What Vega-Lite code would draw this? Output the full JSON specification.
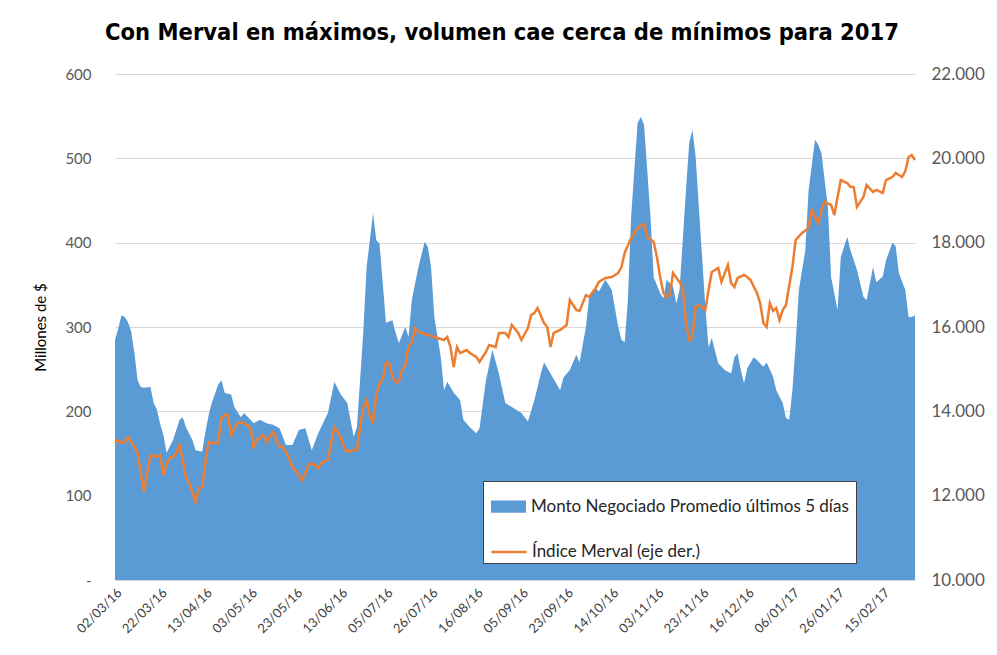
{
  "$schema": "https://vega.github.io/schema/vega-lite/v6.json",
  "autosize": {"type": "none"},
  "padding": {"left": 115, "top": 74, "right": 82, "bottom": 75},
  "width": 800,
  "height": 506,
  "background": "white",
  "config": {
    "view": {"stroke": null},
    "axis": {"labelFont": "Lato", "titleFont": "Lato", "labelColor": "#595959"}
  },
  "title": {
    "text": "Con Merval en máximos, volumen cae cerca de mínimos para 2017",
    "font": "DejaVu Sans Condensed",
    "fontSize": 23.5,
    "fontWeight": "bold",
    "color": "black",
    "anchor": "middle",
    "dx": -13,
    "offset": 21
  },
  "datasets": {
    "monto": [
      {"i":0,"v":285},{"i":1,"v":298},{"i":2,"v":314},{"i":3,"v":312},{"i":4,"v":306},{"i":5,"v":295},{"i":6,"v":270},{"i":7,"v":237},{"i":8,"v":229},{"i":9,"v":228},{"i":11,"v":229},{"i":12,"v":210},{"i":13,"v":202},{"i":14,"v":185},{"i":15,"v":172},{"i":16,"v":151},{"i":18,"v":166},{"i":20,"v":190},{"i":21,"v":193},{"i":22,"v":181},{"i":24,"v":166},{"i":25,"v":154},{"i":27,"v":152},{"i":28,"v":175},{"i":29,"v":195},{"i":30,"v":210},{"i":32,"v":232},{"i":33,"v":237},{"i":34,"v":222},{"i":36,"v":220},{"i":37,"v":205},{"i":39,"v":193},{"i":40,"v":198},{"i":43,"v":186},{"i":45,"v":190},{"i":47,"v":186},{"i":49,"v":184},{"i":51,"v":180},{"i":53,"v":160},{"i":55,"v":160},{"i":57,"v":178},{"i":59,"v":180},{"i":61,"v":154},{"i":63,"v":174},{"i":66,"v":198},{"i":68,"v":235},{"i":70,"v":220},{"i":72,"v":210},{"i":74,"v":170},{"i":75,"v":181},{"i":77,"v":296},{"i":78,"v":371},{"i":80,"v":435},{"i":81,"v":403},{"i":82,"v":399},{"i":83,"v":352},{"i":84,"v":305},{"i":86,"v":308},{"i":87,"v":293},{"i":88,"v":281},{"i":90,"v":300},{"i":91,"v":288},{"i":92,"v":332},{"i":94,"v":370},{"i":96,"v":401},{"i":97,"v":395},{"i":98,"v":370},{"i":99,"v":312},{"i":101,"v":264},{"i":102,"v":225},{"i":103,"v":235},{"i":105,"v":222},{"i":107,"v":213},{"i":108,"v":190},{"i":110,"v":181},{"i":112,"v":174},{"i":113,"v":180},{"i":115,"v":237},{"i":117,"v":273},{"i":119,"v":245},{"i":121,"v":210},{"i":123,"v":205},{"i":126,"v":198},{"i":128,"v":188},{"i":130,"v":213},{"i":132,"v":245},{"i":133,"v":258},{"i":135,"v":245},{"i":138,"v":225},{"i":139,"v":240},{"i":141,"v":249},{"i":143,"v":267},{"i":144,"v":258},{"i":146,"v":300},{"i":147,"v":336},{"i":149,"v":346},{"i":150,"v":342},{"i":152,"v":356},{"i":153,"v":350},{"i":154,"v":344},{"i":156,"v":300},{"i":157,"v":285},{"i":158,"v":282},{"i":159,"v":332},{"i":160,"v":431},{"i":162,"v":542},{"i":163,"v":549},{"i":164,"v":540},{"i":166,"v":431},{"i":167,"v":359},{"i":169,"v":340},{"i":170,"v":334},{"i":171,"v":356},{"i":173,"v":348},{"i":174,"v":328},{"i":175,"v":344},{"i":177,"v":462},{"i":178,"v":518},{"i":179,"v":534},{"i":180,"v":502},{"i":181,"v":442},{"i":183,"v":324},{"i":184,"v":276},{"i":185,"v":287},{"i":187,"v":257},{"i":189,"v":249},{"i":191,"v":245},{"i":192,"v":264},{"i":193,"v":269},{"i":194,"v":249},{"i":195,"v":233},{"i":196,"v":251},{"i":198,"v":264},{"i":199,"v":261},{"i":201,"v":253},{"i":202,"v":258},{"i":204,"v":241},{"i":205,"v":225},{"i":207,"v":210},{"i":208,"v":192},{"i":209,"v":190},{"i":210,"v":225},{"i":211,"v":280},{"i":212,"v":344},{"i":214,"v":391},{"i":215,"v":462},{"i":217,"v":522},{"i":218,"v":516},{"i":219,"v":506},{"i":221,"v":442},{"i":222,"v":359},{"i":224,"v":320},{"i":225,"v":383},{"i":227,"v":407},{"i":228,"v":391},{"i":230,"v":368},{"i":232,"v":336},{"i":233,"v":332},{"i":235,"v":371},{"i":236,"v":353},{"i":238,"v":360},{"i":239,"v":379},{"i":241,"v":400},{"i":242,"v":396},{"i":243,"v":364},{"i":245,"v":344},{"i":246,"v":312},{"i":247,"v":312},{"i":248,"v":314}
    ],
    "merval": [
      {"i":0,"v":13249},{"i":1,"v":13320},{"i":2,"v":13249},{"i":3,"v":13273},{"i":4,"v":13391},{"i":5,"v":13273},{"i":6,"v":13154},{"i":7,"v":13012},{"i":8,"v":12537},{"i":9,"v":12087},{"i":10,"v":12537},{"i":11,"v":12964},{"i":13,"v":12920},{"i":14,"v":12964},{"i":15,"v":12490},{"i":16,"v":12750},{"i":17,"v":12893},{"i":18,"v":12920},{"i":19,"v":13012},{"i":20,"v":13202},{"i":21,"v":12846},{"i":22,"v":12443},{"i":23,"v":12300},{"i":25,"v":11850},{"i":26,"v":12182},{"i":27,"v":12205},{"i":28,"v":12775},{"i":29,"v":13273},{"i":30,"v":13249},{"i":32,"v":13249},{"i":33,"v":13842},{"i":34,"v":13913},{"i":35,"v":13913},{"i":36,"v":13439},{"i":38,"v":13723},{"i":39,"v":13747},{"i":41,"v":13676},{"i":42,"v":13605},{"i":43,"v":13154},{"i":44,"v":13320},{"i":46,"v":13439},{"i":47,"v":13273},{"i":49,"v":13510},{"i":51,"v":13154},{"i":52,"v":13154},{"i":54,"v":12893},{"i":55,"v":12656},{"i":56,"v":12609},{"i":58,"v":12372},{"i":60,"v":12727},{"i":61,"v":12775},{"i":63,"v":12656},{"i":64,"v":12775},{"i":66,"v":12846},{"i":67,"v":13249},{"i":68,"v":13628},{"i":70,"v":13391},{"i":71,"v":13154},{"i":72,"v":13035},{"i":74,"v":13083},{"i":75,"v":13083},{"i":76,"v":13628},{"i":77,"v":14100},{"i":78,"v":14269},{"i":79,"v":13900},{"i":80,"v":13747},{"i":81,"v":14400},{"i":82,"v":14650},{"i":83,"v":14743},{"i":84,"v":15150},{"i":85,"v":15150},{"i":86,"v":14814},{"i":87,"v":14696},{"i":88,"v":14696},{"i":89,"v":14980},{"i":90,"v":15100},{"i":91,"v":15525},{"i":92,"v":15620},{"i":93,"v":15976},{"i":94,"v":15880},{"i":95,"v":15858},{"i":97,"v":15810},{"i":99,"v":15763},{"i":100,"v":15740},{"i":102,"v":15692},{"i":103,"v":15763},{"i":104,"v":15525},{"i":105,"v":15051},{"i":106,"v":15525},{"i":107,"v":15383},{"i":109,"v":15454},{"i":110,"v":15383},{"i":112,"v":15288},{"i":113,"v":15170},{"i":115,"v":15407},{"i":116,"v":15573},{"i":118,"v":15525},{"i":119,"v":15858},{"i":121,"v":15858},{"i":122,"v":15763},{"i":123,"v":16047},{"i":125,"v":15858},{"i":126,"v":15692},{"i":128,"v":15976},{"i":129,"v":16284},{"i":130,"v":16330},{"i":131,"v":16450},{"i":133,"v":16095},{"i":134,"v":16000},{"i":135,"v":15525},{"i":136,"v":15858},{"i":138,"v":15929},{"i":140,"v":16047},{"i":141,"v":16640},{"i":143,"v":16403},{"i":144,"v":16380},{"i":146,"v":16759},{"i":147,"v":16711},{"i":149,"v":16925},{"i":150,"v":17067},{"i":152,"v":17162},{"i":154,"v":17186},{"i":156,"v":17281},{"i":157,"v":17423},{"i":158,"v":17755},{"i":160,"v":18111},{"i":161,"v":18229},{"i":162,"v":18348},{"i":163,"v":18400},{"i":164,"v":18430},{"i":165,"v":18134},{"i":166,"v":18080},{"i":167,"v":18016},{"i":168,"v":17660},{"i":169,"v":17186},{"i":170,"v":16806},{"i":171,"v":16711},{"i":172,"v":16760},{"i":173,"v":17281},{"i":175,"v":17067},{"i":176,"v":16950},{"i":177,"v":16095},{"i":178,"v":15692},{"i":179,"v":15760},{"i":180,"v":16474},{"i":181,"v":16521},{"i":183,"v":16403},{"i":184,"v":16877},{"i":185,"v":17304},{"i":187,"v":17399},{"i":188,"v":17067},{"i":190,"v":17470},{"i":191,"v":17043},{"i":192,"v":16948},{"i":193,"v":17162},{"i":195,"v":17233},{"i":196,"v":17186},{"i":197,"v":17115},{"i":199,"v":16806},{"i":200,"v":16569},{"i":201,"v":16095},{"i":202,"v":16000},{"i":203,"v":16569},{"i":204,"v":16380},{"i":205,"v":16450},{"i":206,"v":16166},{"i":207,"v":16403},{"i":208,"v":16521},{"i":210,"v":17423},{"i":211,"v":18063},{"i":213,"v":18229},{"i":214,"v":18290},{"i":215,"v":18348},{"i":216,"v":18775},{"i":217,"v":18609},{"i":218,"v":18466},{"i":219,"v":18775},{"i":220,"v":18964},{"i":221,"v":18930},{"i":222,"v":18893},{"i":223,"v":18656},{"i":224,"v":19083},{"i":225,"v":19486},{"i":227,"v":19415},{"i":228,"v":19320},{"i":229,"v":19320},{"i":230,"v":18846},{"i":231,"v":18960},{"i":232,"v":19083},{"i":233,"v":19367},{"i":235,"v":19202},{"i":236,"v":19250},{"i":238,"v":19178},{"i":239,"v":19486},{"i":241,"v":19557},{"i":242,"v":19652},{"i":244,"v":19557},{"i":245,"v":19700},{"i":246,"v":20032},{"i":247,"v":20079},{"i":248,"v":19960}
    ]
  },
  "layer": [
    {
      "data": {"name": "monto"},
      "mark": {"type": "area", "opacity": 1, "interpolate": "linear"},
      "encoding": {
        "x": {
          "field": "i", "type": "quantitative",
          "scale": {"domain": [0, 248], "nice": false, "zero": false},
          "axis": {
            "values": [0,14,28,42,56,70,84,98,112,126,140,154,168,182,196,210,224,238],
            "labelExpr": "['02/03/16','22/03/16','13/04/16','03/05/16','23/05/16','13/06/16','05/07/16','26/07/16','16/08/16','05/09/16','23/09/16','14/10/16','03/11/16','23/11/16','16/12/16','06/01/17','26/01/17','15/02/17'][round(datum.value/14)]",
            "labelAngle": -45,
            "labelOverlap": false,
            "labelFlush": false,
            "labelFontSize": 13,
            "labelColor": "#404040",
            "labelPadding": 6,
            "grid": false, "domain": false, "ticks": false, "title": null
          }
        },
        "y": {
          "field": "v", "type": "quantitative",
          "scale": {"domain": [0, 600], "nice": false},
          "axis": {
            "values": [0,100,200,300,400,500,600],
            "labelExpr": "datum.value == 0 ? '-' : datum.label",
            "grid": true, "gridColor": "#D9D9D9", "gridWidth": 1,
            "domain": false, "ticks": false,
            "labelFontSize": 15, "labelPadding": 24,
            "title": "Millones de $",
            "titleFontSize": 15, "titleFontWeight": "normal", "titleColor": "black",
            "titlePadding": 16
          }
        },
        "fill": {
          "datum": "Monto Negociado Promedio últimos 5 días",
          "scale": {"domain": ["Monto Negociado Promedio últimos 5 días"], "range": ["#5B9BD5"]},
          "legend": {
            "orient": "none", "legendX": 368, "legendY": 407,
            "direction": "vertical",
            "title": "\u00a0", "titleOrient": "bottom", "titleFontSize": 17, "titlePadding": 25,
            "fillColor": "white", "strokeColor": "#404040",
            "padding": 7,
            "symbolType": "M-1,-0.35H1V0.35H-1Z",
            "symbolSize": 1225,
            "labelFont": "Lato", "labelFontSize": 17, "labelColor": "#262626", "labelLimit": 500, "labelOffset": 4
          }
        }
      }
    },
    {
      "data": {"name": "merval"},
      "mark": {"type": "line", "strokeWidth": 2.5},
      "encoding": {
        "x": {"field": "i", "type": "quantitative"},
        "y": {
          "field": "v", "type": "quantitative",
          "scale": {"domain": [10000, 22000], "nice": false, "zero": false},
          "axis": {
            "orient": "right",
            "values": [10000,12000,14000,16000,18000,20000,22000],
            "labelExpr": "replace(format(datum.value, ','), ',', '.')",
            "grid": false, "domain": false, "ticks": false, "title": null,
            "labelFontSize": 17, "labelPadding": 16
          }
        },
        "stroke": {
          "datum": "Índice Merval (eje der.)",
          "scale": {"domain": ["Índice Merval (eje der.)"], "range": ["#ED7D31"]},
          "legend": {
            "orient": "none", "legendX": 368, "legendY": 452,
            "direction": "vertical",
            "title": null,
            "padding": 7,
            "symbolType": "stroke",
            "symbolSize": 1225,
            "symbolStrokeWidth": 2.5,
            "labelFont": "Lato", "labelFontSize": 17, "labelColor": "#262626", "labelLimit": 500, "labelOffset": 4
          }
        }
      }
    }
  ],
  "resolve": {"scale": {"y": "independent"}}
}
